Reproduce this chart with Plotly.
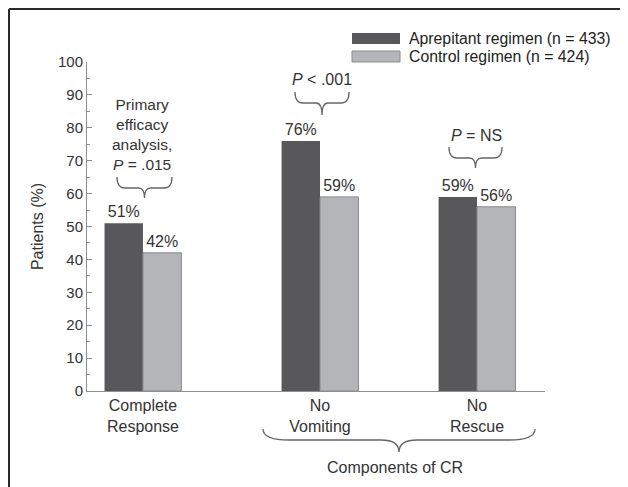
import plotly.graph_objects as go

# ---------------- data ----------------
categories = ["Complete<br>Response", "No<br>Vomiting", "No<br>Rescue"]
aprepitant = [51, 76, 59]
control = [42, 59, 56]
series_names = ["Aprepitant regimen (n = 433)", "Control regimen (n = 424)"]
y_ticks = [0, 10, 20, 30, 40, 50, 60, 70, 80, 90, 100]
p_texts = ["Primary<br>efficacy<br>analysis,<br><i>P</i> = .015", "<i>P</i> &lt; .001", "<i>P</i> = NS"]
group_note = "Components of CR"

# ---------------- layout constants ----------------
OFF = 8  # page body margin of the browser
W, H = 628 - OFF, 487 - OFF
L, R, T, B = 87 - OFF, 83, 62 - OFF, 96
group_pos = [0, 1.06, 2.0]
bar_w = 0.23
DARK = "#58585b"
LIGHT = "#b4b5b8"
TXT = "#333333"
AX = "#8f8f8f"
FONT = "Liberation Sans, Arial, sans-serif"


def px(x):
    # x in reference-page pixels -> paper
    return (x - OFF - L) / (W - L - R)


def py(y):
    return (H - B - (y - OFF)) / (H - T - B)


def brace(x0, x1, ytop, ymid, ybot, r=8, rc=6):
    xc = (x0 + x1) / 2
    pts = [
        f"M {px(x0)},{py(ytop)}",
        f"Q {px(x0)},{py(ymid)} {px(x0 + r)},{py(ymid)}",
        f"L {px(xc - rc)},{py(ymid)}",
        f"Q {px(xc)},{py(ymid)} {px(xc)},{py(ybot)}",
        f"Q {px(xc)},{py(ymid)} {px(xc + rc)},{py(ymid)}",
        f"L {px(x1 - r)},{py(ymid)}",
        f"Q {px(x1)},{py(ymid)} {px(x1)},{py(ytop)}",
    ]
    return dict(type="path", xref="paper", yref="paper", path=" ".join(pts),
                line=dict(color="#666666", width=1.3))


fig = go.Figure()
fig.add_trace(go.Bar(
    x=group_pos, y=aprepitant, width=bar_w, offset=-bar_w, name=series_names[0],
    marker=dict(color=DARK, line=dict(width=0)),
    texttemplate="%{y}%", textposition="outside", cliponaxis=False,
    textfont=dict(size=16, color=TXT, family=FONT), showlegend=False,
))
fig.add_trace(go.Bar(
    x=group_pos, y=control, width=bar_w, offset=0, name=series_names[1],
    marker=dict(color=LIGHT, line=dict(width=1, color="#8a8a8a")),
    texttemplate="%{y}%", textposition="outside", cliponaxis=False,
    textfont=dict(size=16, color=TXT, family=FONT), showlegend=False,
))

shapes = [
    # frame
    dict(type="line", xref="paper", yref="paper", x0=px(9), x1=px(640), y0=py(9), y1=py(9),
         line=dict(color="#2a2a2a", width=2)),
    dict(type="line", xref="paper", yref="paper", x0=px(9), x1=px(9), y0=py(9), y1=py(500),
         line=dict(color="#2a2a2a", width=2)),
    # legend swatches
    dict(type="rect", xref="paper", yref="paper", x0=px(352), x1=px(400), y0=py(33), y1=py(44),
         fillcolor=DARK, line=dict(width=0)),
    dict(type="rect", xref="paper", yref="paper", x0=px(352), x1=px(400), y0=py(51), y1=py(62),
         fillcolor=LIGHT, line=dict(width=1, color="#8a8a8a")),
    # braces
    brace(117, 172, 177, 188, 198),
    brace(295, 349, 92, 103, 115),
    brace(449, 502, 147, 158, 168),
    brace(263, 535, 429, 440, 452, r=26, rc=18),
]

annotations = [
    dict(text=series_names[0], x=px(407), y=py(38.5), xanchor="left", yanchor="middle"),
    dict(text=series_names[1], x=px(407), y=py(56.5), xanchor="left", yanchor="middle"),
    dict(text=p_texts[0], x=px(142), y=py(134), xanchor="center", yanchor="middle"),
    dict(text=p_texts[1], x=px(322), y=py(80), xanchor="center", yanchor="middle"),
    dict(text=p_texts[2], x=px(476), y=py(136), xanchor="center", yanchor="middle"),
    dict(text=group_note, x=px(395), y=py(467), xanchor="center", yanchor="middle"),
]
for a in annotations:
    a.update(xref="paper", yref="paper", showarrow=False,
             font=dict(size=16, color=TXT, family=FONT))
annotations[0]["font"] = dict(size=15.8, color="#222222", family=FONT)
annotations[1]["font"] = dict(size=15.8, color="#222222", family=FONT)
annotations[2]["font"] = dict(size=15.5, color=TXT, family=FONT)

fig.update_layout(
    width=W, height=H,
    margin=dict(l=L, r=R, t=T, b=B, pad=0),
    paper_bgcolor="white", plot_bgcolor="white",
    barmode="overlay",
    font=dict(family=FONT, size=16, color=TXT),
    shapes=shapes, annotations=annotations,
    xaxis=dict(
        range=[-0.335, 2.407], tickmode="array", tickvals=group_pos, ticktext=categories,
        showline=True, linecolor=AX, linewidth=1, ticks="", showgrid=False, zeroline=False,
        tickfont=dict(size=16, color=TXT, family=FONT), fixedrange=True,
    ),
    yaxis=dict(
        range=[0, 100], tickmode="array", tickvals=y_ticks,
        showline=True, linecolor=AX, linewidth=1, ticks="inside", ticklen=5, tickcolor=AX,
        minor=dict(ticks="inside", dtick=5, ticklen=3, tickcolor=AX, showgrid=False),
        showgrid=False, zeroline=False,
        tickfont=dict(size=15, color=TXT, family=FONT),
        title=dict(text="Patients (%)", standoff=10, font=dict(size=16, color=TXT, family=FONT)),
        fixedrange=True,
    ),
)

fig.write_html("out.html")
